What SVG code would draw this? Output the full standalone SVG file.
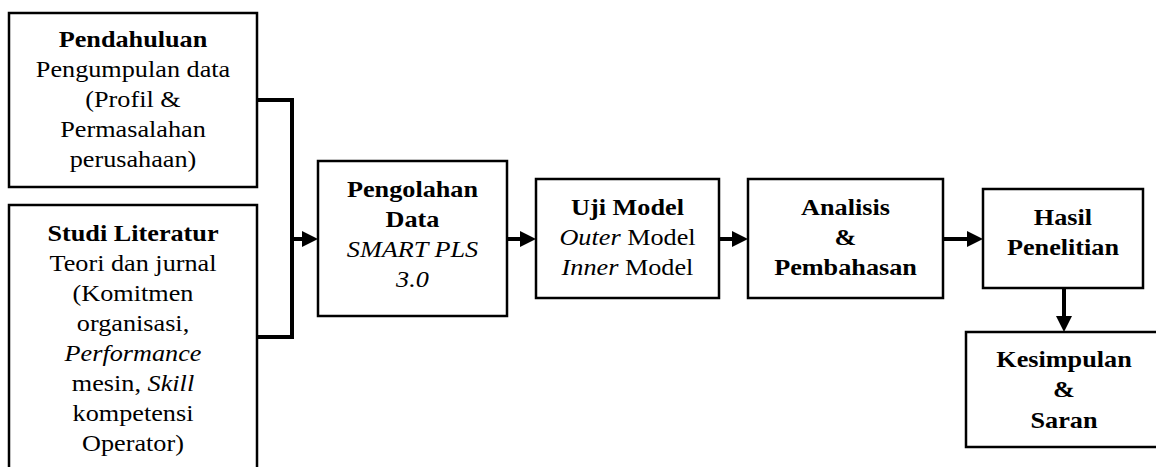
<svg xmlns="http://www.w3.org/2000/svg" width="1156" height="467" viewBox="0 0 1156 467">
  <style>
    .box { fill: #ffffff; stroke: #000000; stroke-width: 2.5; }
    .link { fill: none; stroke: #000000; stroke-width: 4; stroke-linejoin: miter; }
    .lbl text { font-family: 'Liberation Serif', 'Times New Roman', Tinos, 'DejaVu Serif', serif; font-size: 23px; fill: #000000; text-anchor: middle; }
    .b { font-weight: bold; }
    .i { font-style: italic; }
  </style>
  <defs>
    <marker id="head" viewBox="0 0 16 16" refX="4" refY="8" markerWidth="16" markerHeight="16" markerUnits="userSpaceOnUse" orient="auto">
      <path d="M0,0 L16,8 L0,16 Z" fill="#000000"/>
    </marker>
  </defs>

  <rect width="1156" height="467" fill="#ffffff"/>

  <!-- connectors -->
  <g id="connectors">
    <path class="link" d="M257,100 H292 V337 H257"/>
    <path class="link" d="M292,239 H306" marker-end="url(#head)"/>
    <path class="link" d="M507,239 H524" marker-end="url(#head)"/>
    <path class="link" d="M719,239 H736" marker-end="url(#head)"/>
    <path class="link" d="M943,239 H971" marker-end="url(#head)"/>
    <path class="link" d="M1064,288 V320" marker-end="url(#head)"/>
  </g>

  <g id="pendahuluan">
    <rect class="box" x="9" y="13" width="248" height="174"/>
    <g class="lbl" transform="translate(133 0) scale(1.14 1)" font-family="Liberation Serif, serif">
      <text x="0" y="47" class="b">Pendahuluan</text>
      <text x="0" y="77">Pengumpulan data</text>
      <text x="0" y="107">(Profil &amp;</text>
      <text x="0" y="137">Permasalahan</text>
      <text x="0" y="167">perusahaan)</text>
    </g>
  </g>

  <g id="studi-literatur">
    <rect class="box" x="9" y="205" width="248" height="280"/>
    <g class="lbl" transform="translate(133 0) scale(1.14 1)" font-family="Liberation Serif, serif">
      <text x="0" y="241" class="b">Studi Literatur</text>
      <text x="0" y="271">Teori dan jurnal</text>
      <text x="0" y="301">(Komitmen</text>
      <text x="0" y="331">organisasi,</text>
      <text x="0" y="361" class="i">Performance</text>
      <text x="0" y="391">mesin, <tspan class="i">Skill</tspan></text>
      <text x="0" y="421">kompetensi</text>
      <text x="0" y="451">Operator)</text>
    </g>
  </g>

  <g id="pengolahan-data">
    <rect class="box" x="318" y="161" width="189" height="155"/>
    <g class="lbl" transform="translate(412.5 0) scale(1.14 1)" font-family="Liberation Serif, serif">
      <text x="0" y="197" class="b">Pengolahan</text>
      <text x="0" y="227" class="b">Data</text>
      <text x="0" y="257" class="i">SMART PLS</text>
      <text x="0" y="287" class="i">3.0</text>
    </g>
  </g>

  <g id="uji-model">
    <rect class="box" x="536" y="179" width="183" height="119"/>
    <g class="lbl" transform="translate(627.5 0) scale(1.14 1)" font-family="Liberation Serif, serif">
      <text x="0" y="215" class="b">Uji Model</text>
      <text x="0" y="245"><tspan class="i">Outer</tspan> Model</text>
      <text x="0" y="275"><tspan class="i">Inner</tspan> Model</text>
    </g>
  </g>

  <g id="analisis">
    <rect class="box" x="748" y="179" width="195" height="119"/>
    <g class="lbl" transform="translate(845.5 0) scale(1.14 1)" font-family="Liberation Serif, serif">
      <text x="0" y="215" class="b">Analisis</text>
      <text x="0" y="245" class="b">&amp;</text>
      <text x="0" y="275" class="b">Pembahasan</text>
    </g>
  </g>

  <g id="hasil-penelitian">
    <rect class="box" x="983" y="189" width="160" height="99"/>
    <g class="lbl" transform="translate(1063 0) scale(1.14 1)" font-family="Liberation Serif, serif">
      <text x="0" y="225" class="b">Hasil</text>
      <text x="0" y="255" class="b">Penelitian</text>
    </g>
  </g>

  <g id="kesimpulan-saran">
    <rect class="box" x="966" y="332" width="196" height="115"/>
    <g class="lbl" transform="translate(1064 0) scale(1.14 1)" font-family="Liberation Serif, serif">
      <text x="0" y="367" class="b">Kesimpulan</text>
      <text x="0" y="397" class="b">&amp;</text>
      <text x="0" y="428" class="b">Saran</text>
    </g>
  </g>
</svg>
